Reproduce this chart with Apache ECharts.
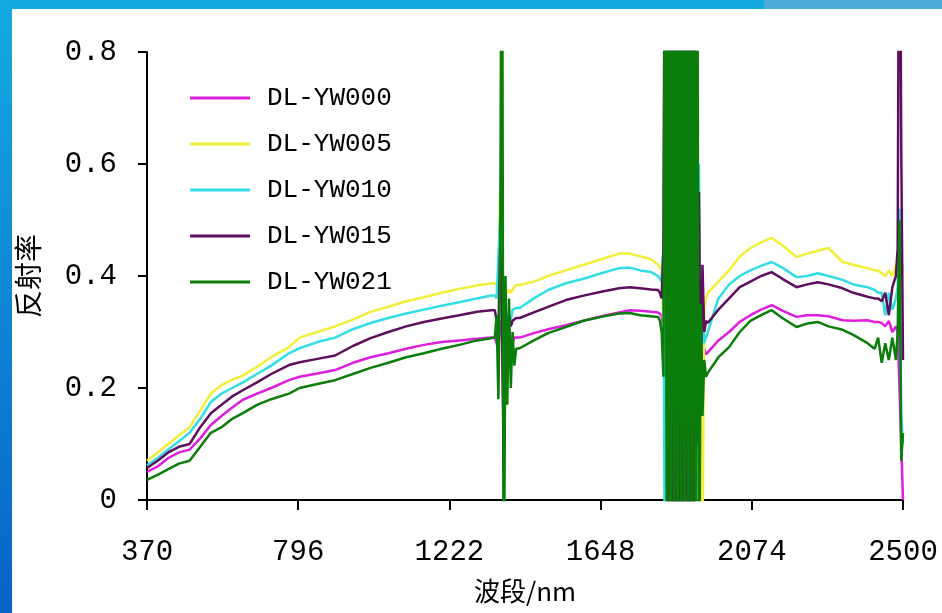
<!DOCTYPE html>
<html><head><meta charset="utf-8">
<script src="https://cdn.jsdelivr.net/npm/echarts@6/dist/echarts.min.js"></script>
<style>html,body{margin:0;padding:0;background:#fff}#c{width:942px;height:613px}</style>
</head><body><div id="c"></div>
<script>
// Wavelength (nm) sampling points shared by all series
const wavelength = [
  370,400,430,460,490,520,550,580,610,640,680,720,770,800,850,900,950,1000,1050,1100,1150,1200,1250,1300,1340,
  1350,1355,1360,1365,1370,1375,1380,1385,1390,1395,1400,1405,1410,
  1420,1460,1500,1550,1600,1650,1700,1730,1760,1790,1810,
  1815,1820,1825,1830,1835,1840,1845,1850,1855,1860,1865,1870,1875,1880,1885,1890,1895,1900,1905,1910,1915,1920,1925,1930,1935,1940,1945,
  1950,1980,2010,2040,2070,2100,2130,2160,2200,2230,2260,2290,2330,2360,2400,2420,
  2430,2440,2450,2460,2470,2480,2485,2490,2495,2500
];
const seriesNames = ['DL-YW000','DL-YW005','DL-YW010','DL-YW015','DL-YW021'];
const yw000 = [
  0.05,0.06,0.075,0.085,0.09,0.11,0.134,0.15,0.165,0.179,0.19,0.20,0.214,0.22,0.226,0.232,0.245,0.255,0.262,0.27,0.277,0.282,0.285,0.288,0.29,
  0.29,0.29,0.27,0.32,0.30,0.12,0.27,0.25,0.28,0.27,0.28,0.29,0.29,
  0.29,0.298,0.305,0.312,0.32,0.328,0.335,0.339,0.338,0.336,0.335,
  0.335,0.33,0.3,0.7,0.0,0.9,-0.3,1.3,-0.3,1.3,-0.3,1.3,-0.3,1.3,-0.3,1.3,-0.3,1.3,-0.3,1.0,0.1,0.5,0.25,0.3,0.22,0.27,0.26,
  0.262,0.285,0.30,0.318,0.33,0.34,0.348,0.338,0.327,0.33,0.33,0.328,0.321,0.32,0.321,0.318,
  0.318,0.316,0.31,0.32,0.30,0.31,0.30,0.20,0.10,0.0
];
const yw005 = [
  0.07,0.085,0.10,0.115,0.13,0.16,0.19,0.205,0.215,0.222,0.238,0.255,0.273,0.29,0.30,0.31,0.322,0.336,0.345,0.355,0.362,0.37,0.377,0.383,0.387,
  0.387,0.39,0.38,0.55,0.42,0.30,0.38,0.37,0.375,0.37,0.375,0.38,0.384,
  0.384,0.39,0.40,0.41,0.42,0.43,0.44,0.44,0.435,0.43,0.42,
  0.42,0.41,0.3,1.3,-0.3,1.3,-0.3,1.3,-0.3,1.3,-0.3,1.3,-0.3,1.3,-0.3,1.3,-0.3,1.3,-0.3,1.3,-0.3,0.3,0.35,0.17,-0.1,0.34,0.36,
  0.37,0.39,0.41,0.435,0.45,0.46,0.468,0.455,0.434,0.44,0.445,0.45,0.425,0.42,0.414,0.41,
  0.41,0.405,0.40,0.41,0.40,0.42,0.43,0.45,0.38,0.42
];
const yw010 = [
  0.062,0.075,0.09,0.105,0.12,0.145,0.175,0.19,0.20,0.21,0.225,0.24,0.262,0.271,0.282,0.29,0.305,0.316,0.325,0.333,0.34,0.347,0.353,0.36,0.365,
  0.365,0.36,0.36,0.505,0.40,0.20,0.35,0.30,0.33,0.32,0.34,0.34,0.343,
  0.343,0.36,0.375,0.387,0.395,0.405,0.414,0.415,0.41,0.407,0.40,
  0.40,0.39,0.45,-0.3,1.3,0.2,1.3,-0.3,1.3,-0.3,1.3,-0.3,1.3,-0.3,1.3,-0.3,1.3,-0.3,1.3,-0.3,1.3,0.5,0.6,0.25,0.35,0.28,0.29,
  0.30,0.36,0.385,0.40,0.41,0.418,0.425,0.415,0.398,0.40,0.405,0.40,0.393,0.385,0.38,0.375,
  0.37,0.37,0.33,0.37,0.34,0.36,0.38,0.52,0.15,0.10
];
const yw015 = [
  0.057,0.07,0.085,0.095,0.10,0.13,0.155,0.17,0.185,0.196,0.21,0.225,0.241,0.246,0.252,0.258,0.275,0.289,0.30,0.31,0.318,0.324,0.33,0.336,0.339,
  0.339,0.34,0.30,0.45,0.36,0.05,0.30,0.31,0.33,0.31,0.32,0.32,0.325,
  0.325,0.335,0.345,0.357,0.365,0.372,0.378,0.38,0.378,0.376,0.375,
  0.37,0.36,0.45,1.3,0.2,-0.3,1.3,-0.3,1.3,-0.3,1.3,-0.3,1.3,-0.3,1.3,-0.3,1.3,-0.3,1.3,-0.3,0.9,0.1,0.55,0.2,0.42,0.30,0.32,
  0.316,0.34,0.36,0.38,0.39,0.40,0.407,0.395,0.38,0.385,0.389,0.385,0.378,0.37,0.363,0.36,
  0.36,0.355,0.37,0.33,0.38,0.40,0.45,1.3,0.63,0.25
];
const yw021 = [
  0.036,0.045,0.055,0.065,0.07,0.095,0.12,0.13,0.145,0.155,0.17,0.18,0.19,0.20,0.207,0.214,0.225,0.236,0.245,0.255,0.262,0.27,0.277,0.285,0.289,
  0.29,0.33,0.18,0.42,1.3,-0.3,0.40,0.17,0.36,0.20,0.30,0.24,0.27,
  0.271,0.285,0.298,0.309,0.32,0.327,0.333,0.334,0.33,0.328,0.327,
  0.32,0.30,0.22,1.3,-0.3,1.3,-0.3,1.3,-0.3,1.3,-0.3,1.3,-0.3,1.3,-0.3,1.3,-0.3,1.3,-0.3,1.3,-0.3,1.3,-0.3,0.35,0.15,0.25,0.22,
  0.227,0.255,0.273,0.30,0.32,0.33,0.339,0.325,0.309,0.315,0.318,0.31,0.304,0.295,0.28,0.27,
  0.29,0.245,0.28,0.25,0.29,0.25,0.30,0.50,0.07,0.12
];
const xTicks = [370, 796, 1222, 1648, 2074, 2500];
const yTicks = [0, 0.2, 0.4, 0.6, 0.8];

const seriesValues = [yw000, yw005, yw010, yw015, yw021];
const colors = ['#dd1fdd', '#f2ee3a', '#33dde6', '#5c0f5c', '#0a7d0a'];
seriesValues.forEach((arr, i) => {
  if (arr.length !== wavelength.length) throw new Error(seriesNames[i] + ' length ' + arr.length + ' != ' + wavelength.length);
});

const chart = echarts.init(document.getElementById('c'), null, {renderer: 'canvas'});
const mono = 'Liberation Mono';
chart.setOption({
  animation: false,
  backgroundColor: '#ffffff',
  graphic: [
    {type: 'rect', shape: {x: 0, y: 0, width: 942, height: 9}, style: {fill: '#12a9e1'}, silent: true},
    {type: 'rect', shape: {x: 764, y: 0, width: 178, height: 9}, style: {fill: '#4eaad6'}, silent: true},
    {type: 'rect', shape: {x: 0, y: 0, width: 12, height: 613}, silent: true,
      style: {fill: new echarts.graphic.LinearGradient(0, 0, 0, 1, [{offset: 0, color: '#14aae2'}, {offset: 1, color: '#0862c8'}])}}
  ],
  grid: {left: 147, right: 39, top: 52, bottom: 113, containLabel: false, outerBoundsMode: 'none'},
  legend: {
    orient: 'vertical', left: 185, top: 80,
    icon: 'rect', itemWidth: 60, itemHeight: 3, itemGap: 20,
    data: seriesNames,
    textStyle: {fontFamily: mono, fontSize: 26, color: '#000', lineHeight: 26, padding: [0, 0, 0, 12]}
  },
  xAxis: {
    type: 'value', min: xTicks[0], max: xTicks[xTicks.length - 1], interval: xTicks[1] - xTicks[0],
    splitLine: {show: false},
    axisLine: {show: true, onZero: false, lineStyle: {color: '#000', width: 2}},
    axisTick: {show: true, inside: false, length: 10, lineStyle: {color: '#000', width: 2}},
    axisLabel: {margin: 38, color: '#000', fontFamily: mono, fontSize: 29, showMinLabel: true, showMaxLabel: true,
      formatter: v => String(Math.round(v))},
    name: '波段/nm', nameLocation: 'middle', nameGap: 78,
    nameTextStyle: {fontFamily: 'Noto Sans CJK SC', fontSize: 26, color: '#000'}
  },
  yAxis: {
    type: 'value', min: yTicks[0], max: yTicks[yTicks.length - 1], interval: yTicks[1] - yTicks[0],
    splitLine: {show: false},
    axisLine: {show: true, lineStyle: {color: '#000', width: 2}},
    axisTick: {show: true, inside: false, length: 9, lineStyle: {color: '#000', width: 2}},
    axisLabel: {margin: 30, color: '#000', fontFamily: mono, fontSize: 29,
      formatter: v => (Math.abs(v) < 1e-9 ? '0' : v.toFixed(1))},
    name: '反射率', nameLocation: 'middle', nameRotate: 90, nameGap: 105,
    nameTextStyle: {fontFamily: 'Noto Sans CJK SC', fontSize: 28, color: '#000'}
  },
  series: seriesNames.map((name, i) => ({
    name: name, type: 'line', showSymbol: false, symbol: 'none', clip: true,
    color: colors[i],
    lineStyle: {width: 2.5, color: colors[i]},
    data: wavelength.map((w, k) => [w, seriesValues[i][k]])
  }))
});
</script>
</body></html>
